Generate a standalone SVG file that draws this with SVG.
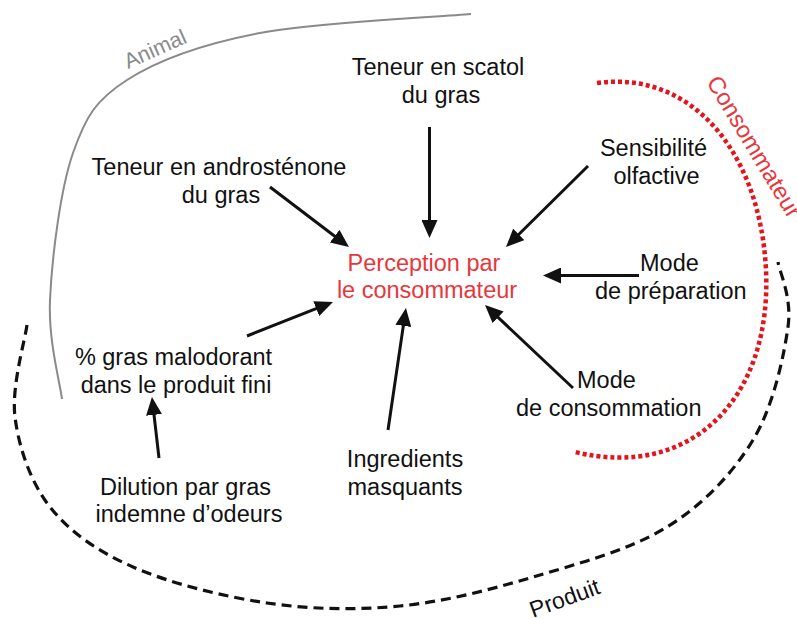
<svg xmlns="http://www.w3.org/2000/svg" width="797" height="619" viewBox="0 0 797 619">
<defs>
<style>
.t{font-family:"Liberation Sans",Arial,sans-serif;font-size:23.5px;fill:#111}
.m{text-anchor:middle}
.red{fill:#e8373c}
.arr{stroke:#111;stroke-width:3;fill:none;marker-end:url(#ah)}
</style>
<marker id="ah" markerUnits="userSpaceOnUse" markerWidth="18" markerHeight="16" refX="8" refY="8" orient="auto">
<path d="M0,0 L18,8 L0,16 z" fill="#111"/>
</marker>
</defs>
<rect width="797" height="619" fill="#fff"/>
<g id="regions">
<path id="animal-arc" d="M62,399 C60,382.5 48.2,341 50,300 C51.8,259 60.2,189.7 73,153 C85.8,116.3 95.8,100 127,80 C158.2,60 202.7,44 260,33 C317.3,22 435.8,17.2 471,14" fill="none" stroke="#8a8a8a" stroke-width="2"/>
<path id="consommateur-arc" d="M597,83 C690,70 760,150 766,270 C772,400 690,480 575,452" fill="none" stroke="#e3141b" stroke-width="4.5" stroke-dasharray="4 3"/>
<path id="produit-arc" d="M27,325 C25,340.3 11.2,386.7 15,417 C18.8,447.3 30.3,482 50,507 C69.7,532 96.8,551 133,567 C169.2,583 222.5,596.5 267,603 C311.5,609.5 355.7,610.3 400,606 C444.3,601.7 488.5,590.2 533,577 C577.5,563.8 630.3,549.8 667,527 C703.7,504.2 732.8,473.3 753,440 C773.2,406.7 783.8,356.7 788,327 C792.2,297.3 779.7,272.8 778,262" fill="none" stroke="#111" stroke-width="3.2" stroke-dasharray="10 6"/>
<text class="t" style="font-size:21.5px;fill:#8a8a8a" transform="translate(128,69) rotate(-24)">Animal</text>
<text class="t red" transform="translate(706,82) rotate(59)">Consommateur</text>
<text class="t" style="font-size:23px" transform="translate(533,618) rotate(-20)">Produit</text>
</g>
<g id="connectors">
<line class="arr" x1="429.5" y1="127" x2="429.5" y2="228"/>
<line class="arr" x1="270" y1="187" x2="341" y2="241"/>
<line class="arr" x1="588" y1="166" x2="513.1" y2="240"/>
<line class="arr" x1="639" y1="275.5" x2="553" y2="275.5"/>
<line class="arr" x1="573" y1="388" x2="492.3" y2="311.9"/>
<line class="arr" x1="388" y1="430" x2="404.5" y2="317.9"/>
<line class="arr" x1="247" y1="336" x2="323.7" y2="305.7"/>
<line class="arr" x1="159" y1="458" x2="153.1" y2="406.9"/>
</g>
<g id="perception">
<text class="t m red" x="424" y="270.5">Perception par</text>
<text class="t m red" x="427" y="298">le consommateur</text>
</g>
<g id="scatol">
<text class="t m" x="438" y="75">Teneur en scatol</text>
<text class="t m" x="441" y="103">du gras</text>
</g>
<g id="androstenone">
<text class="t m" x="219" y="175">Teneur en androsténone</text>
<text class="t m" x="221" y="203">du gras</text>
</g>
<g id="sensibilite">
<text class="t m" x="653.5" y="156">Sensibilité</text>
<text class="t m" x="656.5" y="184">olfactive</text>
</g>
<g id="preparation">
<text class="t" x="640" y="270.5">Mode</text>
<text class="t" x="595" y="299">de préparation</text>
</g>
<g id="consommation">
<text class="t" x="577" y="388">Mode</text>
<text class="t" x="516" y="416">de consommation</text>
</g>
<g id="malodorant">
<text class="t m" x="173.5" y="365">% gras malodorant</text>
<text class="t m" x="176" y="393">dans le produit fini</text>
</g>
<g id="dilution">
<text class="t m" x="185.5" y="495">Dilution par gras</text>
<text class="t m" x="189" y="522">indemne d’odeurs</text>
</g>
<g id="ingredients">
<text class="t m" x="405" y="467">Ingredients</text>
<text class="t m" x="405" y="495">masquants</text>
</g>
</svg>
